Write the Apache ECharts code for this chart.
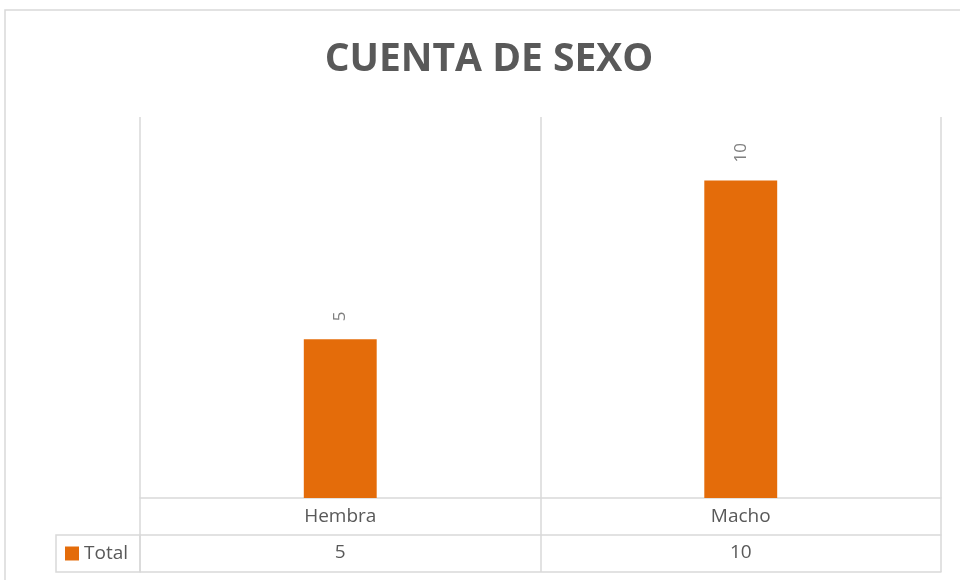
<!DOCTYPE html>
<html>
<head>
<meta charset="utf-8">
<script src="https://cdn.jsdelivr.net/npm/echarts@6/dist/echarts.min.js"></script>
<style>
html,body{margin:0;padding:0;background:#fff;}
#chart{width:960px;height:580px;}
</style>
</head>
<body>
<div id="chart"></div>
<script>
const titleText = "CUENTA DE SEXO";
const categories = ["Hembra", "Macho"];
const seriesName = "Total";
const totals = [5, 10];

const FONT = "'Open Sans', sans-serif";
const GRID = "#d9d9d9";
const TEXT = "#595959";
const ORANGE = "#E46C0A";

const chart = echarts.init(document.getElementById('chart'), null, {renderer: 'canvas'});
chart.setOption({
  animation: false,
  backgroundColor: '#fff',
  textStyle: {fontFamily: FONT},
  title: {
    text: titleText,
    left: 489, textAlign: 'center', top: 40, padding: 0,
    textStyle: {fontFamily: FONT, fontSize: 39, fontWeight: 'bold', color: TEXT}
  },
  legend: {
    left: 65, top: 544, padding: 0,
    icon: 'rect', itemWidth: 14, itemHeight: 14,
    textStyle: {color: TEXT, fontSize: 19, fontFamily: FONT},
    data: [seriesName]
  },
  grid: {left: 140, right: 19, top: 117, bottom: 82, containLabel: false},
  xAxis: [
    {
      type: 'category', data: categories, position: 'bottom',
      axisLine: {show: true, lineStyle: {color: GRID, width: 1.5}},
      axisTick: {show: true, length: 74, lineStyle: {color: GRID, width: 1.5}},
      axisLabel: {color: TEXT, fontSize: 19, margin: 9, fontFamily: FONT},
      splitLine: {show: true, lineStyle: {color: GRID, width: 1.5}}
    },
    {
      type: 'category', data: categories, position: 'bottom', offset: 37,
      axisLine: {show: true, lineStyle: {color: GRID, width: 1.5}},
      axisTick: {show: false},
      axisLabel: {color: TEXT, fontSize: 19, margin: 8, fontFamily: FONT,
        formatter: function (v, i) { return String(totals[i]); }},
      splitLine: {show: false}
    },
    {
      type: 'category', data: categories, position: 'bottom', offset: 74,
      axisLine: {show: true, lineStyle: {color: GRID, width: 1.5}},
      axisTick: {show: false},
      axisLabel: {show: false},
      splitLine: {show: false}
    }
  ],
  yAxis: {
    type: 'value', min: 0, max: 12, interval: 2,
    axisLine: {show: false}, axisTick: {show: false},
    axisLabel: {show: false}, splitLine: {show: false}
  },
  graphic: [
    {type: 'rect', silent: true, shape: {x: 5, y: 10, width: 1000, height: 1000},
      style: {fill: null, stroke: GRID, lineWidth: 1.5}},
    {type: 'rect', silent: true, shape: {x: 56, y: 535, width: 84, height: 37},
      style: {fill: null, stroke: GRID, lineWidth: 1.5}}
  ],
  series: [{
    name: seriesName, type: 'bar', xAxisIndex: 0, data: totals,
    barWidth: '18.2%',
    itemStyle: {color: ORANGE},
    label: {
      show: true, position: 'top', rotate: 90, distance: 18,
      align: 'left', verticalAlign: 'middle',
      color: '#7f7f7f', fontSize: 17, fontFamily: FONT
    }
  }]
});
</script>
</body>
</html>
